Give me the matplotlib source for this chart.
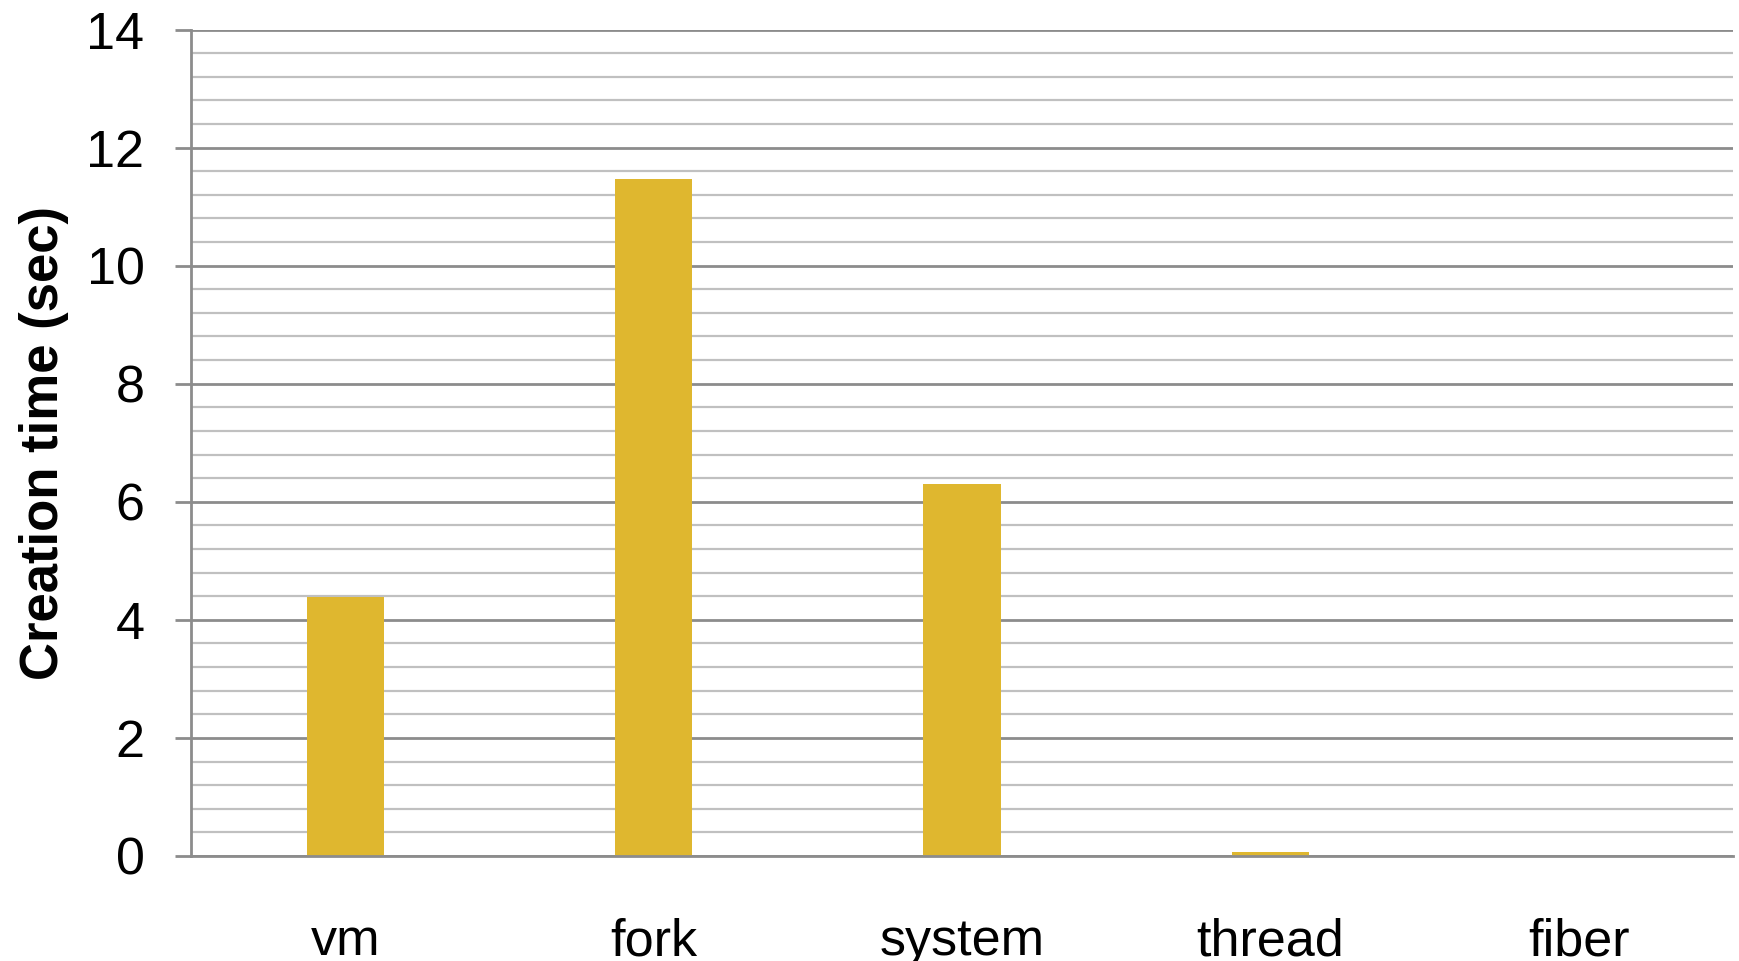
import matplotlib
matplotlib.use("Agg")
from matplotlib import pyplot as plt
from matplotlib.ticker import MultipleLocator
import numpy as np

# creation time per mechanism
categories = ["vm", "fork", "system", "thread", "fiber"]
times = [4.38, 11.46, 6.30, 0.06, 0.0]
yticks = [0, 2, 4, 6, 8, 10, 12, 14]

plt.rcParams['font.family'] = ['Liberation Sans', 'DejaVu Sans']

fig = plt.figure(figsize=(17.39, 9.61), dpi=100)
ax = fig.add_axes([0.1098, 0.1093, 0.8868, 0.86])

x = np.arange(len(categories))
ax.bar(x, times, width=0.25, color='#DFB72F', zorder=3)

ax.set_xlim(-0.5, len(categories) - 0.5)
ax.set_ylim(0, 14)
ax.set_yticks(yticks)
ax.yaxis.set_minor_locator(MultipleLocator(0.4))

# grid: darker at labelled values, lighter in between
ax.grid(axis='y', which='major', color='#8c8c8c', linewidth=2, zorder=1)
ax.grid(axis='y', which='minor', color='#c0c0c0', linewidth=1.6, zorder=1)
ax.set_axisbelow(True)

ax.set_xticks(x)
ax.set_xticklabels(categories)
ax.tick_params(axis='x', length=0, pad=44, labelsize=37.5)
ax.tick_params(axis='y', which='major', length=11.5, width=2, color='#8c8c8c',
               pad=22, labelsize=37.5)
ax.tick_params(axis='y', which='minor', length=0)

for side in ['top', 'right']:
    ax.spines[side].set_visible(False)
for side in ['left', 'bottom']:
    ax.spines[side].set_color('#8c8c8c')
    ax.spines[side].set_linewidth(2)
    ax.spines[side].set_zorder(4)

ax.set_ylabel('Creation time (sec)', fontsize=38, fontweight='bold')
ax.yaxis.set_label_coords(-0.079, 0.5)

fig.savefig('out.png', dpi=100)
